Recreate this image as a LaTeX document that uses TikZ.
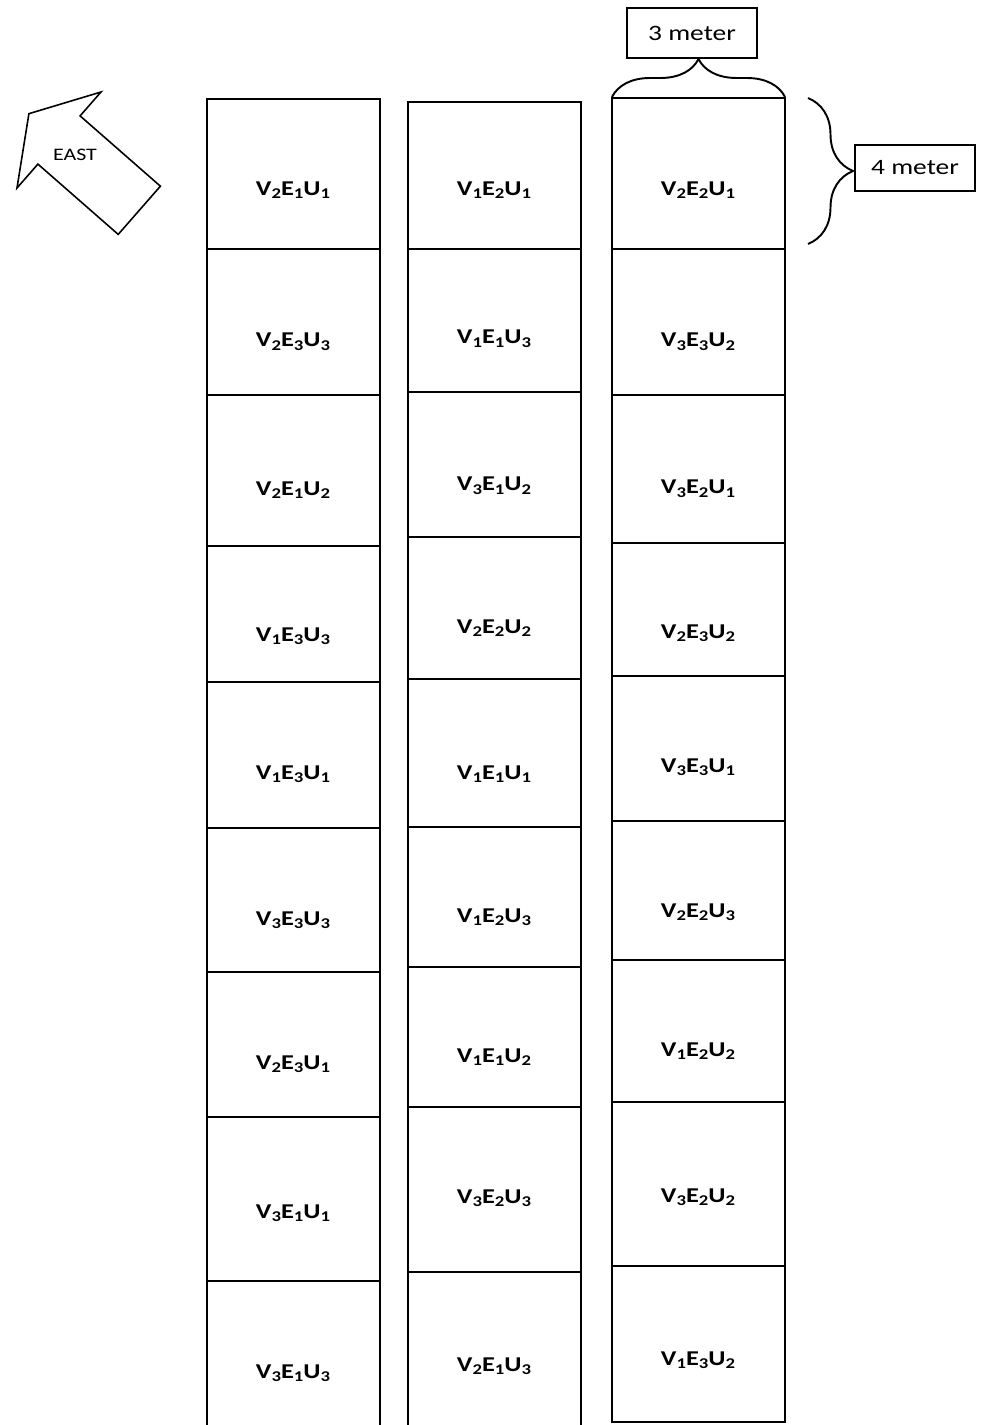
\documentclass[tikz,border=0pt]{standalone}
\usepackage{fontspec}
\setmainfont{Carlito}
\usetikzlibrary{decorations.pathreplacing}
\newcommand\sbs[1]{\raisebox{-0.35ex}{\fontsize{8.5}{9}\selectfont #1}}
\newcommand\plotlab[3]{\scalebox{1.25}[1]{V\sbs{#1}E\sbs{#2}U\sbs{#3}}}
\begin{document}
\begin{tikzpicture}[x=0.02cm,y=-0.02cm,
  cellline/.style={line width=1.6pt},
  lab/.style={font=\fontsize{12}{14}\selectfont\bfseries, inner sep=0pt},
  meterbox/.style={draw, line width=1.1pt, font=\fontsize{12.5}{15}\selectfont, inner sep=0pt},
  bracestyle/.style={line width=1.1pt, decorate},
  arrowshape/.style={line width=0.9pt, line join=miter}]
\useasboundingbox (0,0) rectangle (980,1425);

% column 1
\draw[cellline] (207,99) rectangle (380,249);
\draw[cellline] (207,249) rectangle (380,395);
\draw[cellline] (207,395) rectangle (380,546);
\draw[cellline] (207,546) rectangle (380,682);
\draw[cellline] (207,682) rectangle (380,828);
\draw[cellline] (207,828) rectangle (380,972);
\draw[cellline] (207,972) rectangle (380,1117);
\draw[cellline] (207,1117) rectangle (380,1281);
\draw[cellline] (207,1430) -- (207,1281) -- (380,1281) -- (380,1430);
% column 2
\draw[cellline] (408,102) rectangle (581,249);
\draw[cellline] (408,249) rectangle (581,392);
\draw[cellline] (408,392) rectangle (581,537);
\draw[cellline] (408,537) rectangle (581,679);
\draw[cellline] (408,679) rectangle (581,827);
\draw[cellline] (408,827) rectangle (581,967);
\draw[cellline] (408,967) rectangle (581,1107);
\draw[cellline] (408,1107) rectangle (581,1272);
\draw[cellline] (408,1430) -- (408,1272) -- (581,1272) -- (581,1430);
% column 3
\draw[cellline] (612,98) rectangle (785,249);
\draw[cellline] (612,249) rectangle (785,395);
\draw[cellline] (612,395) rectangle (785,543);
\draw[cellline] (612,543) rectangle (785,676);
\draw[cellline] (612,676) rectangle (785,821);
\draw[cellline] (612,821) rectangle (785,960);
\draw[cellline] (612,960) rectangle (785,1102);
\draw[cellline] (612,1102) rectangle (785,1266);
\draw[cellline] (612,1266) rectangle (785,1422);

% labels column 1
\node[lab] (c1r1) at (293,190) {\plotlab{2}{1}{1}};
\node[lab] (c1r2) at (293,342) {\plotlab{2}{3}{3}};
\node[lab] (c1r3) at (293,490) {\plotlab{2}{1}{2}};
\node[lab] (c1r4) at (293,636) {\plotlab{1}{3}{3}};
\node[lab] (c1r5) at (293,774) {\plotlab{1}{3}{1}};
\node[lab] (c1r6) at (293,920) {\plotlab{3}{3}{3}};
\node[lab] (c1r7) at (293,1064) {\plotlab{2}{3}{1}};
\node[lab] (c1r8) at (293,1213) {\plotlab{3}{1}{1}};
\node[lab] (c1r9) at (293,1373) {\plotlab{3}{1}{3}};
% labels column 2
\node[lab] (c2r1) at (494,190) {\plotlab{1}{2}{1}};
\node[lab] (c2r2) at (494,339) {\plotlab{1}{1}{3}};
\node[lab] (c2r3) at (494,486) {\plotlab{3}{1}{2}};
\node[lab] (c2r4) at (494,628) {\plotlab{2}{2}{2}};
\node[lab] (c2r5) at (494,774) {\plotlab{1}{1}{1}};
\node[lab] (c2r6) at (494,917) {\plotlab{1}{2}{3}};
\node[lab] (c2r7) at (494,1057) {\plotlab{1}{1}{2}};
\node[lab] (c2r8) at (494,1198) {\plotlab{3}{2}{3}};
\node[lab] (c2r9) at (494,1366) {\plotlab{2}{1}{3}};
% labels column 3
\node[lab] (c3r1) at (698,190) {\plotlab{2}{2}{1}};
\node[lab] (c3r2) at (698,342) {\plotlab{3}{3}{2}};
\node[lab] (c3r3) at (698,489) {\plotlab{3}{2}{1}};
\node[lab] (c3r4) at (698,633) {\plotlab{2}{3}{2}};
\node[lab] (c3r5) at (698,767) {\plotlab{3}{3}{1}};
\node[lab] (c3r6) at (698,912) {\plotlab{2}{2}{3}};
\node[lab] (c3r7) at (698,1051) {\plotlab{1}{2}{2}};
\node[lab] (c3r8) at (698,1197) {\plotlab{3}{2}{2}};
\node[lab] (c3r9) at (698,1360) {\plotlab{1}{3}{2}};

% dimension boxes and braces
\node[meterbox, minimum width=2.6cm, minimum height=1cm] (three) at (692,33) {\scalebox{1.25}[1]{3 meter}};
\node[meterbox, minimum width=2.4cm, minimum height=0.92cm] (four) at (915,168) {\scalebox{1.25}[1]{4 meter}};
\draw[bracestyle, decoration={brace, amplitude=0.76cm}] (612,97) -- (785,97);
\draw[bracestyle, decoration={brace, amplitude=0.9cm}] (808,98) -- (808,244);

% EAST arrow
\draw[arrowshape] (28.9,113.7) -- (101,92) -- (80.1,115.9) -- (160.4,186.2)
  -- (118.2,234.4) -- (37.9,164.1) -- (17,188) -- cycle;
\node[font=\fontsize{10}{12}\selectfont, inner sep=0pt] (east) at (75,155) {\scalebox{1.25}[1]{EAST}};
\end{tikzpicture}
\end{document}
